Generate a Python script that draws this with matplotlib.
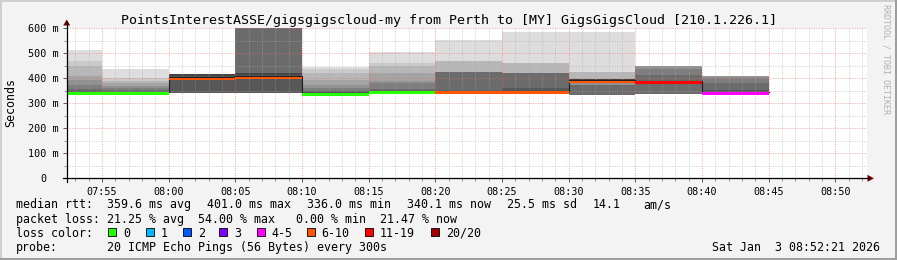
import matplotlib
matplotlib.use("Agg")
import matplotlib.pyplot as plt
from matplotlib.lines import Line2D
from matplotlib.patches import Polygon, Rectangle
from matplotlib.ticker import FixedLocator, MultipleLocator

# ---------------- data ----------------
title = "PointsInterestASSE/gigsgigscloud-my from Perth to [MY] GigsGigsCloud [210.1.226.1]"
window_start = "07:52:21"
window_end = "08:52:21"
block_end = ["07:55", "08:00", "08:05", "08:10", "08:15", "08:20",
             "08:25", "08:30", "08:35", "08:40", "08:45"]
median_ms = [340, 340, 398, 402, 336, 343, 344, 344, 386, 384, 340.1]
lost_pings = [0, 0, 6, 6, 0, 0, 6, 6, 6, 11, 4]

# smoke bands: edges in ms (bottom -> top) and depth rank of each band (1 darkest .. 9 lightest)
smoke_edges = [
    [336, 342, 349, 357, 374, 393, 410, 448, 468, 513],
    [335, 341, 346, 353, 360, 369, 380, 389, 400, 437],
    [340, 409, 417],
    [340, 412, 420, 640],
    [334, 342, 350, 360, 373, 393, 420, 436, 446],
    [338, 344, 350, 357, 380, 391, 420, 450, 460, 504],
    [340, 350, 426, 469, 553],
    [340, 360, 422, 460, 587],
    [334, 373, 382, 398, 426, 584],
    [336, 413, 437, 450],
    [336, 353, 380, 400, 409],
]
smoke_rank = [
    [1, 2, 3, 4, 5, 6, 7, 8, 9],
    [1, 2, 3, 4, 5, 6, 7, 8, 9],
    [2, 1],
    [2, 1, 3],
    [1, 2, 4, 5, 6, 7, 8, 9],
    [1, 2, 3, 4, 5, 6, 7, 8, 9],
    [2, 3, 7, 9],
    [2, 3, 7, 9],
    [3, 5, 1, 7, 9],
    [3, 4, 5],
    [2, 3, 4, 5],
]

y_ticks = [0, 100, 200, 300, 400, 500, 600]
y_tick_labels = ["0  ", "100 m", "200 m", "300 m", "400 m", "500 m", "600 m"]
x_tick_labels = ["07:55", "08:00", "08:05", "08:10", "08:15", "08:20",
                 "08:25", "08:30", "08:35", "08:40", "08:45", "08:50"]

loss_labels = ["0", "1", "2", "3", "4-5", "6-10", "11-19", "20/20"]
loss_upper = [0, 1, 2, 3, 5, 10, 19, 20]
loss_colors = ["#26ff00", "#00b8ff", "#0059ff", "#7e00ff", "#ff00ff",
               "#ff5500", "#ff0000", "#a10000"]

stats_rtt = ["median rtt:", "359.6 ms avg", "401.0 ms max", "336.0 ms min",
             "340.1 ms now", "25.5 ms sd", "14.1", "am/s"]
stats_loss = "packet loss: 21.25 % avg  54.00 % max   0.00 % min  21.47 % now"
probe_text = ["probe:", "20 ICMP Echo Pings (56 Bytes) every 300s"]
date_text = "Sat Jan  3 08:52:21 2026"
watermark = "RRDTOOL / TOBI OETIKER"


def to_min(s):
    parts = [int(p) for p in s.split(":")]
    m = parts[0] * 60 + parts[1]
    if len(parts) > 2:
        m += parts[2] / 60.0
    return m


def loss_color(n):
    for up, c in zip(loss_upper, loss_colors):
        if n <= up:
            return c
    return loss_colors[-1]


def gray(rank):
    v = int(50 + 19 * rank)
    return "#%02x%02x%02x" % (v, v, v)


# ---------------- figure ----------------
W, H = 897, 260
MONO = "DejaVu Sans Mono"
plt.rcParams["font.family"] = [MONO]

fig = plt.figure(figsize=(W / 100, H / 100), dpi=100, facecolor="#f3f3f3")


def fx(x):
    return x / W


def fy(y):
    return 1 - y / H


AX_L, AX_R, AX_T, AX_B = 66.7, 866.7, 28.3, 178.3
ax = fig.add_axes([fx(AX_L), fy(AX_B), (AX_R - AX_L) / W, (AX_B - AX_T) / H])
ax.set_facecolor("white")

t0, t1 = to_min(window_start), to_min(window_end)
ax.set_xlim(t0, t1)
ax.set_ylim(0, 600)
swidth = 600 / (AX_B - AX_T)  # one pixel in ms

# smoke
for i, end in enumerate(block_end):
    e = to_min(end)
    s = e - 5
    edges = smoke_edges[i]
    for j, r in enumerate(smoke_rank[i]):
        ax.bar(s, edges[j + 1] - edges[j], bottom=edges[j], width=5, align="edge",
               color=gray(r), linewidth=0, zorder=1)

# dark median step line (sits just above the coloured band)
xs = [to_min(e) - 5 for e in block_end] + [to_min(block_end[-1])]
ys = [m + 1.6 * swidth for m in median_ms] + [median_ms[-1] + 1.6 * swidth]
ax.step(xs, ys, where="post", color="#202020", lw=0.8, zorder=4)

# median colored bands
for i, end in enumerate(block_end):
    e = to_min(end)
    ax.fill_between([e - 5, e], [median_ms[i] - 1.25 * swidth] * 2,
                    [median_ms[i] + 1.25 * swidth] * 2,
                    color=loss_color(lost_pings[i]), linewidth=0, zorder=5)

# grid
ax.xaxis.set_major_locator(FixedLocator([to_min(t) for t in x_tick_labels]))
ax.set_xticklabels(x_tick_labels)
ax.xaxis.set_minor_locator(MultipleLocator(1))
ax.yaxis.set_major_locator(FixedLocator(y_ticks))
ax.set_yticklabels(y_tick_labels)
ax.yaxis.set_minor_locator(MultipleLocator(50))
ax.set_axisbelow(False)
ax.grid(which="major", color="#ff6060", alpha=0.55, lw=0.72, linestyle=(0, (1, 1.4)))
ax.grid(which="minor", color="#a8a8a8", alpha=0.55, lw=0.72, linestyle=(0, (1, 1.4)))

for sp in ax.spines.values():
    sp.set_visible(False)
ax.tick_params(which="major", length=3, width=0.72, color="#606060",
               labelsize=7.3, labelcolor="black")
ax.tick_params(which="minor", length=2, width=0.72, color="#909090")
ax.tick_params(axis="x", pad=3.0)
ax.tick_params(axis="y", pad=2.5)

# axis lines with arrows
fig.add_artist(Line2D([fx(AX_L), fx(AX_L)], [fy(182), fy(22)], color="black", lw=0.9))
fig.add_artist(Line2D([fx(63), fx(869)], [fy(AX_B), fy(AX_B)], color="black", lw=0.9))
fig.add_artist(Polygon([(fx(AX_L - 3.5), fy(25.5)), (fx(AX_L + 3.5), fy(25.5)), (fx(AX_L), fy(19.5))],
                       closed=True, color="#7a0000", lw=0))
fig.add_artist(Polygon([(fx(867.5), fy(AX_B - 3.5)), (fx(867.5), fy(AX_B + 3.5)), (fx(874), fy(AX_B))],
                       closed=True, color="#7a0000", lw=0))

# title, y label, watermark
fig.text(fx(448.5), fy(24), title, ha="center", va="baseline", fontsize=9.6, color="black")
fig.text(fx(11), fy(102.5), "Seconds", rotation=90, ha="center", va="center", fontsize=8.4)
fig.text(fx(886), fy(59), watermark, rotation=270, ha="center", va="center",
         fontsize=6, color="#b0b0b0")

# legend
LFS = 8.4
row_y = [208.3, 222.5, 236.6, 250.7]
rtt_x = [16, 107, 207, 307, 407, 507, 593, 643]
for txt, x in zip(stats_rtt, rtt_x):
    fig.text(fx(x), fy(row_y[0]), txt, ha="left", va="baseline", fontsize=LFS)
fig.text(fx(16), fy(row_y[1]), stats_loss, ha="left", va="baseline", fontsize=LFS)
fig.text(fx(16), fy(row_y[2]), "loss color:", ha="left", va="baseline", fontsize=LFS)
box_x = [108.3, 145.7, 182.7, 219.3, 256.7, 306.7, 365, 430.7]
for lbl, c, bx in zip(loss_labels, loss_colors, box_x):
    fig.add_artist(Rectangle((fx(bx), fy(235.7)), 8 / W, 8 / H, facecolor=c,
                             edgecolor="black", lw=0.6))
    fig.text(fx(bx + 15), fy(row_y[2]), lbl, ha="left", va="baseline", fontsize=LFS)
fig.text(fx(16), fy(row_y[3]), probe_text[0], ha="left", va="baseline", fontsize=LFS)
fig.text(fx(107), fy(row_y[3]), probe_text[1], ha="left", va="baseline", fontsize=LFS)
fig.text(fx(880), fy(row_y[3]), date_text, ha="right", va="baseline", fontsize=LFS)

# frame
fig.add_artist(Line2D([0, 1], [fy(0.5), fy(0.5)], color="#cfcfcf", lw=1.44))
fig.add_artist(Line2D([fx(0.5), fx(0.5)], [0, 1], color="#cfcfcf", lw=1.44))
fig.add_artist(Line2D([0, 1], [fy(H - 1), fy(H - 1)], color="#9e9e9e", lw=1.44))
fig.add_artist(Line2D([fx(W - 1), fx(W - 1)], [0, 1], color="#9e9e9e", lw=1.44))

fig.savefig("out.png", dpi=100, facecolor=fig.get_facecolor())
